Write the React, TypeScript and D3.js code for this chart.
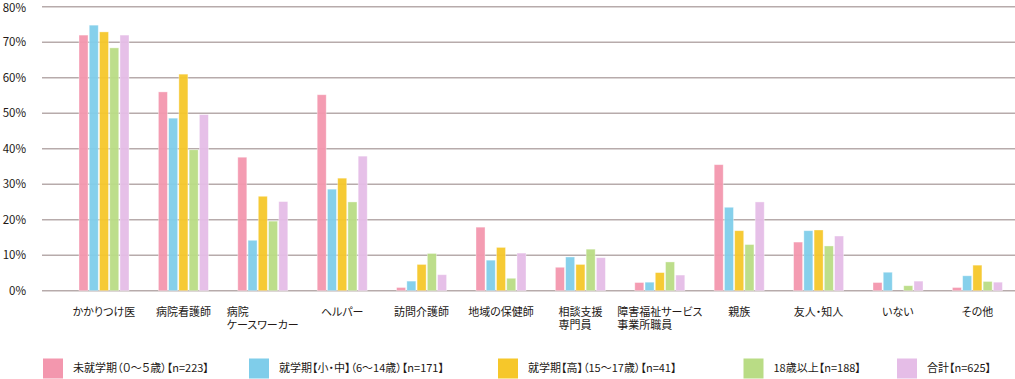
import React, { useEffect, useRef } from "react";
import * as d3 from "d3";

const categories: string[][] = [
  ["かかりつけ医"],
  ["病院看護師"],
  ["病院", "ケースワーカー"],
  ["ヘルパー"],
  ["訪問介護師"],
  ["地域の保健師"],
  ["相談支援", "専門員"],
  ["障害福祉サービス", "事業所職員"],
  ["親族"],
  ["友人・知人"],
  ["いない"],
  ["その他"],
];

const seriesNames = [
  "未就学期（０～５歳）【n=223】",
  "就学期【小・中】（6～14歳）【n=171】",
  "就学期【高】（15～17歳）【n=41】",
  "18歳以上【n=188】",
  "合計【n=625】",
];

const preschool = [72.0, 56.0, 37.6, 55.2, 0.9, 17.9, 6.6, 2.3, 35.5, 13.7, 2.3, 0.9];
const elemMiddle = [74.8, 48.6, 14.2, 28.6, 2.7, 8.6, 9.5, 2.4, 23.5, 16.9, 5.2, 4.2];
const highSchool = [72.9, 61.0, 26.6, 31.7, 7.4, 12.2, 7.4, 5.1, 16.9, 17.1, 0, 7.2];
const adult = [68.4, 39.7, 19.6, 25.0, 10.5, 3.5, 11.7, 8.1, 13.0, 12.6, 1.4, 2.6];
const total = [72.0, 49.6, 25.1, 37.9, 4.5, 10.6, 9.3, 4.4, 25.0, 15.4, 2.7, 2.4];

const seriesValues = [preschool, elemMiddle, highSchool, adult, total];
const colors = ["#f397ae", "#7fcdea", "#f6c72a", "#b9dc85", "#e5bde7"];
const yTicks = [0, 10, 20, 30, 40, 50, 60, 70, 80];

const W = 1015;
const H = 379;
const FONT = '"Noto Sans CJK JP", "Noto Sans", sans-serif';
const legendX = [43, 249, 498, 743.5, 897];

export default function App() {
  const ref = useRef<SVGSVGElement | null>(null);

  useEffect(() => {
    const svg = d3.select(ref.current);
    svg.selectAll("*").remove();

    const x0 = d3
      .scaleBand<number>()
      .domain(categories.map((_, i) => i))
      .range([64.3, 64.3 + 12 * 79.4])
      .padding(0);
    const x1 = d3
      .scaleBand<number>()
      .domain(seriesValues.map((_, i) => i))
      .range([-25, 25])
      .paddingInner(0.12)
      .paddingOuter(0);
    const y = d3.scaleLinear().domain([0, 80]).range([290.7, 6.7]);

    // gridlines
    svg
      .append("g")
      .selectAll("line")
      .data(yTicks)
      .join("line")
      .attr("x1", 42)
      .attr("x2", W)
      .attr("y1", (d) => y(d))
      .attr("y2", (d) => y(d))
      .attr("stroke", "#b7abab")
      .attr("stroke-width", 1.4);

    // tick labels
    svg
      .append("g")
      .selectAll("text")
      .data(yTicks)
      .join("text")
      .attr("x", 26)
      .attr("y", (d) => Math.max(y(d), 7.5))
      .attr("dy", "0.35em")
      .attr("text-anchor", "end")
      .attr("font-family", FONT)
      .attr("font-size", 11.5)
      .attr("fill", "#231815")
      .text((d) => `${d}%`);

    // bars
    seriesValues.forEach((vals, s) => {
      svg
        .append("g")
        .selectAll("rect")
        .data(vals)
        .join("rect")
        .attr("x", (_, i) => (x0(i) as number) + x0.bandwidth() / 2 + (x1(s) as number))
        .attr("y", (d) => y(d))
        .attr("width", x1.bandwidth())
        .attr("height", (d) => y(0) - y(d))
        .attr("fill", colors[s])
        .attr("fill-opacity", 0.95)
        .attr("stroke", "#ffffff")
        .attr("stroke-opacity", 0.45)
        .attr("stroke-width", 0.8);
    });

    // x labels
    const lab = svg.append("g");
    categories.forEach((lines, i) => {
      const cx = (x0(i) as number) + x0.bandwidth() / 2;
      const t = lab
        .append("text")
        .attr("font-family", FONT)
        .attr("font-size", 11)
        .attr("fill", "#231815")
        .style("font-feature-settings", '"palt"');
      lines.forEach((ln, k) => {
        t.append("tspan")
          .attr("x", 0)
          .attr("y", 312.3 + k * 13.2)
          .attr("dy", "0.35em")
          .text(ln);
      });
      const bb = (t.node() as SVGTextElement).getBBox();
      t.attr("transform", `translate(${cx - bb.width / 2},0)`);
    });

    // legend
    const lg = svg.append("g");
    seriesNames.forEach((name, s) => {
      lg.append("rect")
        .attr("x", legendX[s])
        .attr("y", 358.5)
        .attr("width", 20)
        .attr("height", 20)
        .attr("fill", colors[s]);
      lg.append("text")
        .attr("x", legendX[s] + 30)
        .attr("y", 368.3)
        .attr("dy", "0.35em")
        .attr("font-family", FONT)
        .attr("font-size", 11)
        .attr("fill", "#231815")
        .style("font-feature-settings", '"palt"')
        .text(name);
    });
  }, []);

  return (
    <svg
      ref={ref}
      width={W}
      height={H}
      style={{ position: "absolute", left: 0, top: 0, background: "#fff" }}
    />
  );
}
